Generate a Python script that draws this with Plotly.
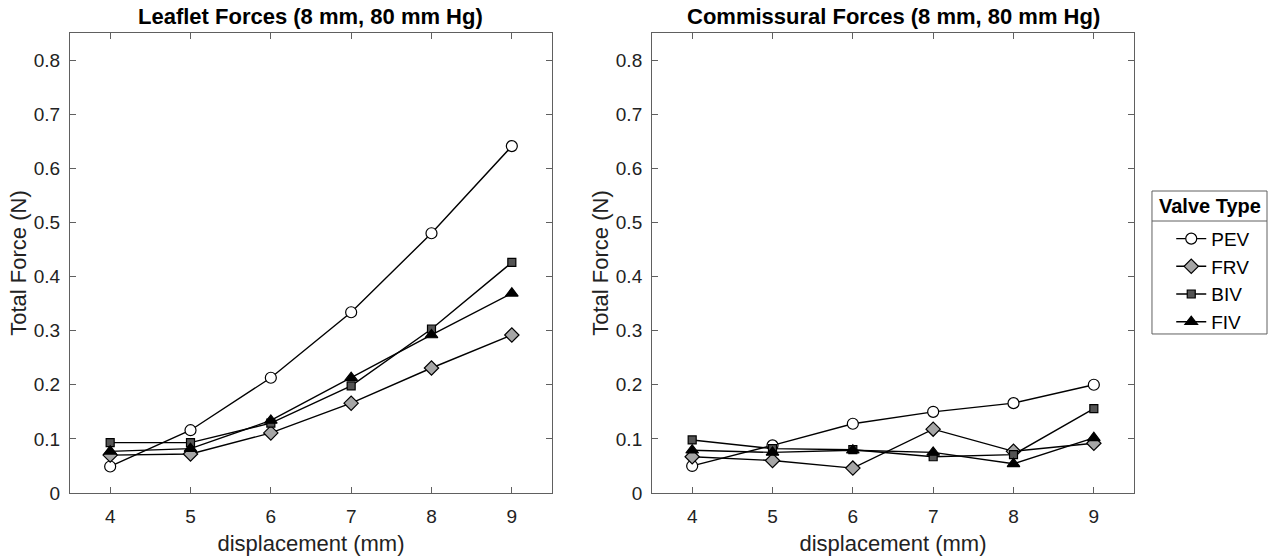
import plotly.graph_objects as go
from plotly.subplots import make_subplots

x_disp = [4, 5, 6, 7, 8, 9]
series_names = ["PEV", "FRV", "BIV", "FIV"]

leaflet = {
    "PEV": [0.049, 0.116, 0.213, 0.334, 0.480, 0.641],
    "FRV": [0.070, 0.072, 0.111, 0.166, 0.231, 0.292],
    "BIV": [0.093, 0.093, 0.129, 0.198, 0.303, 0.426],
    "FIV": [0.077, 0.082, 0.134, 0.213, 0.292, 0.369],
}
commissural = {
    "PEV": [0.050, 0.088, 0.128, 0.150, 0.166, 0.200],
    "FRV": [0.067, 0.060, 0.046, 0.118, 0.077, 0.092],
    "BIV": [0.098, 0.082, 0.080, 0.067, 0.071, 0.156],
    "FIV": [0.079, 0.075, 0.079, 0.075, 0.054, 0.102],
}
titles = ["Leaflet Forces (8 mm, 80 mm Hg)", "Commissural Forces (8 mm, 80 mm Hg)"]
legend_title = "Valve Type"
y_ticks = [0, 0.1, 0.2, 0.3, 0.4, 0.5, 0.6, 0.7, 0.8]
y_ticklabels = ["0", "0.1", "0.2", "0.3", "0.4", "0.5", "0.6", "0.7", "0.8"]

styles = {
    "PEV": dict(symbol="circle", size=11, color="white"),
    "FRV": dict(symbol="diamond", size=11, color="#a6a6a6"),
    "BIV": dict(symbol="square", size=8, color="#545454"),
    "FIV": dict(symbol="triangle-up", size=11, color="black"),
}

FONT = "Liberation Sans, Arial, sans-serif"
TXT = "#222222"
AX = "#606060"

fig = make_subplots(rows=1, cols=2, horizontal_spacing=0.094, subplot_titles=titles)

for col, data in [(1, leaflet), (2, commissural)]:
    for name in series_names:
        st = styles[name]
        fig.add_trace(go.Scatter(
            x=x_disp, y=data[name], mode="lines+markers", name=name,
            showlegend=(col == 2),
            line=dict(color="black", width=1.4),
            marker=dict(symbol=st["symbol"], size=st["size"], color=st["color"],
                        line=dict(color="black", width=1.2)),
        ), row=1, col=col)

axis_common = dict(
    showline=True, linecolor=AX, linewidth=1, mirror="ticks",
    ticks="inside", ticklen=6, tickcolor=AX, showgrid=False, zeroline=False,
    tickfont=dict(size=19, color=TXT, family=FONT), automargin=False,
)
for col in (1, 2):
    fig.update_xaxes(range=[3.5, 9.5], tickvals=x_disp, ticklabelstandoff=6,
                     title=dict(text="displacement (mm)", font=dict(size=22, color=TXT, family=FONT), standoff=9),
                     row=1, col=col, **axis_common)
    fig.update_yaxes(range=[0, 0.85], tickvals=y_ticks, ticktext=y_ticklabels, ticklabelstandoff=5,
                     title=dict(text="Total Force (N)", font=dict(size=22, color=TXT, family=FONT), standoff=1),
                     row=1, col=col, **axis_common)

for ann in fig.layout.annotations:
    ann.font = dict(size=22, color="black", family=FONT)
    ann.text = "<b>" + ann.text + "</b>"
    ann.yshift = 2

fig.update_layout(
    width=1272, height=558,
    margin=dict(l=70, r=138, t=33, b=65, autoexpand=False),
    paper_bgcolor="white", plot_bgcolor="white",
    font=dict(family=FONT, size=19, color="black"),
    legend=dict(
        x=1.035, xanchor="left", y=0.594, yanchor="top",
        borderwidth=0, bgcolor="rgba(0,0,0,0)",
        font=dict(size=19, family=FONT, color="black"),
        tracegroupgap=0,
    ),
)
# legend frame, title and separator
fig.add_shape(type="rect", xref="paper", yref="paper",
              x0=1.0169, x1=1.125, y0=0.3457, y1=0.6565,
              line=dict(color=AX, width=1), fillcolor="white", layer="below")
fig.add_shape(type="line", xref="paper", yref="paper",
              x0=1.0169, x1=1.125, y0=0.5913, y1=0.5913,
              line=dict(color=AX, width=1))
fig.add_annotation(text="<b>" + legend_title + "</b>", xref="paper", yref="paper",
                   x=1.071, y=0.624, xanchor="center", yanchor="middle", showarrow=False,
                   font=dict(size=20, family=FONT, color="black"))

fig.write_html("out.html")
